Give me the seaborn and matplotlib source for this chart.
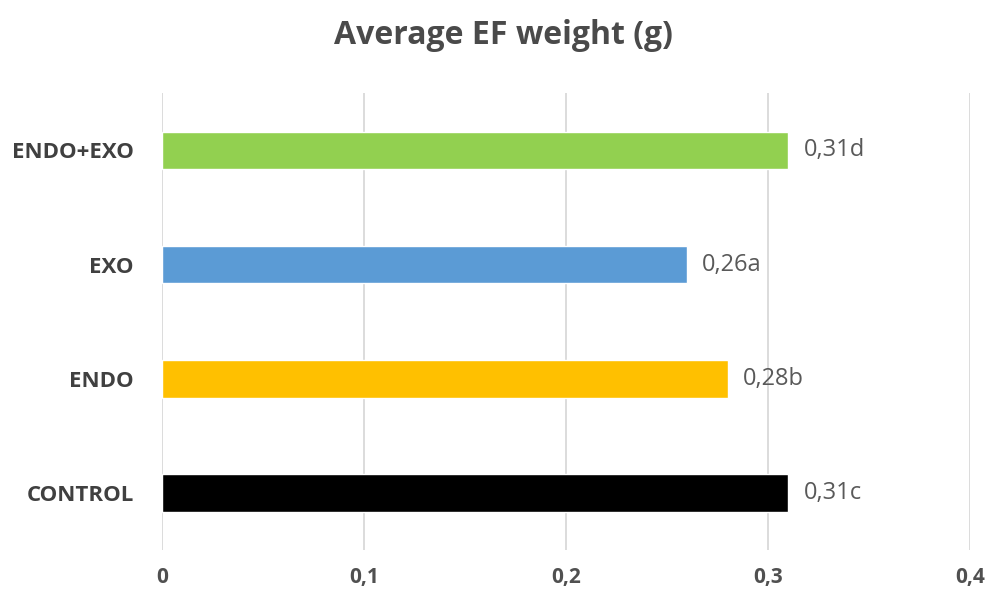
import seaborn as sns
import matplotlib.pyplot as plt
import pandas as pd

# data
categories = ["ENDO+EXO", "EXO", "ENDO", "CONTROL"]
weights = [0.31, 0.26, 0.28, 0.31]
letters = ["d", "a", "b", "c"]
bar_colors = ["#92d050", "#5b9bd5", "#ffc000", "#000000"]
x_ticks = [0, 0.1, 0.2, 0.3, 0.4]
x_ticklabels = ["0", "0,1", "0,2", "0,3", "0,4"]

df = pd.DataFrame({"group": categories, "weight": weights})

sns.set_style("white")
plt.rcParams['font.family'] = ['Open Sans', 'DejaVu Sans']

fig = plt.figure(figsize=(9.92, 5.94), dpi=100)
ax = fig.add_axes([0.163, 0.074, 0.815, 0.769])

sns.barplot(data=df, x="weight", y="group", hue="group", order=categories,
            palette=dict(zip(categories, bar_colors)), width=0.33,
            saturation=1, legend=False, ax=ax, zorder=3)

ax.set_xlim(0, 0.4)
ax.set_xticks(x_ticks)
ax.set_xticklabels(x_ticklabels, fontsize=15, fontweight='bold', color='#505050')
ax.tick_params(axis='x', length=0, pad=12)
ax.tick_params(axis='y', length=0, pad=20)
for lab in ax.get_yticklabels():
    lab.set_fontsize(16)
    lab.set_fontweight('bold')
    lab.set_color('#404040')
ax.grid(axis='x', color='#d9d9d9', linewidth=1.3, zorder=0)
for s in ax.spines.values():
    s.set_visible(False)
ax.set_xlabel("")
ax.set_ylabel("")

# value labels
for i, (v, l) in enumerate(zip(weights, letters)):
    ax.text(v + 0.0075, i, f"{v:.2f}".replace(".", ",") + l, va='center', ha='left',
            fontsize=17, color='#595959')

fig.text(0.508, 0.941, "Average EF weight (g)", ha='center', va='center',
         fontsize=23, fontweight='bold', color='#4a4a4a')

plt.savefig("out.png", dpi=100)
